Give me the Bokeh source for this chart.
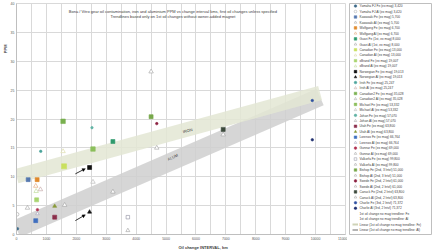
import math
from bokeh.plotting import figure
from bokeh.models import Range1d, Label, Arrow, NormalHead, ColumnDataSource, FixedTicker, Title
from bokeh.layouts import row
from bokeh.embed import file_html
from bokeh.resources import INLINE
from bokeh.core.properties import value

# ---------------- data ----------------
title_lines = [
    "Bona / Vitro gear oil contamination, iron and aluminium PPM vs change interval kms, first oil changes unless specified",
    "Trendlines based only on 1st oil changes without owner-added magnet",
]
x_title = "Oil change INTERVAL, km"
y_title = "PPM"
x_ticks = [0, 1000, 2000, 3000, 4000, 5000, 6000, 7000, 8000, 9000, 10000, 11000]
x_minor = [i * 500 for i in range(23)]
y_ticks = [0, 5, 10, 15, 20, 25, 30, 35, 40]

fe_labels = [
    "Yamaha FJ Fe (ex mag) 3,420", "Kawasaki Fe (ex mag) 5,700", "Wolfgang Fe (ex mag) 6,700",
    "Guzzi Fe (1st, ex mag) 8,000", "Canadian Fe (ex mag) 13,000", "xBrand Fe (ex mag) 19,007",
    "Norwegian Fe (ex mag) 19,013", "Irish Fe (ex mag) 25,247", "Canadian2 Fe (ex mag) 35,028",
    "Michael Fe (ex mag) 53,332", "Johan Fe (ex mag) 57,070", "Utah Fe (ex mag) 63,800",
    "Lorenzo Fe (ex mag) 66,764", "Gunnar Fe (ex mag) 69,000", "Valkorfa Fe (ex mag) 99,800",
    "Bishop Fe (2nd, 3 Intvl) 51,000", "Swede Fe (2nd, 2 Intvl) 61,000",
    "Canuck Fe (2nd, 2 Intvl) 63,800", "Charlie Fe (3rd, 2 Intvl) 71,372",
]
al_labels = [
    "Yamaha FJ Al (ex mag) 3,420", "Kawasaki Al (ex mag) 5,700", "Wolfgang Al (ex mag) 6,700",
    "Guzzi Al (1st, ex mag) 8,000", "Canadian Al (ex mag) 13,000", "xBrand Al (ex mag) 19,007",
    "Norwegian Al (ex mag) 19,013", "Irish Al (ex mag) 25,247", "Canadian2 Al (ex mag) 35,028",
    "Michael Al (ex mag) 53,332", "Johan Al (ex mag) 57,070", "Utah Al (ex mag) 63,800",
    "Lorenzo Al (ex mag) 66,764", "Gunnar Al (ex mag) 69,000", "Valkorfa Al (ex mag) 99,800",
    "Bishop Al (2nd, 3 Intvl) 51,000", "Swede Al (2nd, 2 Intvl) 61,000",
    "Canuck Al (2nd, 2 Intvl) 63,800", "Charlie Al (3rd, 2 Intvl) 71,372",
]
trend_labels = [
    "1st oil change no mag trendline: Fe",
    "1st oil change no mag trendline: Al",
    "Linear (1st oil change no mag trendline: Fe)",
    "Linear (1st oil change no mag trendline: Al)",
]

fe_km = [33, 390, 690, 3223, 1590, 673, 2443, 810, 1557, 2557, 2523, 1277, 643, 700, 3723, 4500, 4690, 6910, 9890]
fe_ppm = [1.0, 9.5, 9.5, 16.1, 11.8, 6.0, 11.6, 14.4, 19.6, 14.8, 18.5, 3.0, 2.4, 4.3, 3.0, 20.4, 19.2, 18.2, 23.2]
al_km = [23, 367, 643, 3223, 1557, 657, 2443, 800, 1610, 2557, None, 1277, 700, None, 3723, 4500, 4690, 6910, 9890]
al_ppm = [3.5, 4.6, 8.4, 7.4, 14.4, 7.5, 3.9, 7.8, 5.1, 9.1, None, 4.9, 3.6, None, 0.7, 28.2, 15.0, 17.3, 16.4]

trend_km = [0, 10150]
iron_trend_ppm = [10.1, 24.5]
alum_trend_ppm = [1.0, 23.8]

# ---------------- styles ----------------
fe_marker = ["circle", "square", "square", "square", "square", "square", "square", "circle", "square",
             "square", "circle", "square", "square", "circle", "square", "square", "circle", "square", "circle"]
fe_fill = ["#3d6b8a", "#5578b0", "#e08a2c", "#2f9a6c", "#c9e060", "#a8d46f", "#111111", "#4aa39a", "#79b04f",
           "#8cbf5c", "#62b3a4", "#8b2d4a", "#3f6fbf", "#b03050", "white", "#77a84a", "#8b2040", "#3c4a3c", "#2f4fa0"]
fe_line = ["#3d6b8a", "#5578b0", "#e08a2c", "#2f9a6c", "#c9e060", "#a8d46f", "#111111", "#4aa39a", "#79b04f",
           "#8cbf5c", "#62b3a4", "#8b2d4a", "#3f6fbf", "#b03050", "#8c8c9c", "#77a84a", "#8b2040", "#3c4a3c", "#2f4fa0"]
fe_size = [2.5, 4, 4, 4, 5, 4, 4, 2.5, 4.5, 4.5, 2.5, 4, 4, 2.5, 3.5, 4, 2.5, 4, 2.5]

al_marker = ["circle", "triangle", "triangle", "triangle", "triangle", "triangle", "triangle", "triangle", "triangle",
             "triangle", "triangle", "triangle", "triangle", "triangle", "triangle", "triangle", "triangle", "triangle", "circle"]
al_fill = ["white", "white", "white", "white", "white", "white", "#111111", "white", "white",
           "white", "white", "#8a9a3a", "white", "white", "white", "white", "white", "white", "#1f2f6f"]
al_line = ["#a0a0a0", "#a0a0a0", "#e0a070", "#a0a0a0", "#d8d8a0", "#b8d890", "#111111", "#c0a0a0", "#a0a0a0",
           "#b0b0b0", "#a0a0a0", "#8a9a3a", "#a0a0b8", "#a0a0a0", "#a0a0a0", "#a0a0a0", "#a0a0a0", "#a0a0a0", "#1f2f6f"]
al_size = [3.5, 4.5, 4.5, 4.5, 4.5, 4.5, 4, 4.5, 4.5, 4.5, 4.5, 4, 3.5, 4.5, 4, 4.5, 4.5, 4.5, 2.5]

iron_color = "#e3e6d3"
alum_color = "#cfcfcf"
FONT = "Liberation Sans"
TXT = "#404040"

# ---------------- main plot ----------------
p = figure(width=347, height=250, x_range=Range1d(0, 11000), y_range=Range1d(0, 40),
           output_backend="svg", toolbar_location=None,
           min_border_left=15, min_border_right=2, min_border_top=3, min_border_bottom=16)
p.outline_line_color = "#d9d9d9"
p.background_fill_color = "white"

p.xaxis.ticker = FixedTicker(ticks=x_ticks, minor_ticks=x_minor)
p.yaxis.ticker = FixedTicker(ticks=y_ticks)
for ax in (p.xaxis, p.yaxis):
    ax.axis_line_color = "#bfbfbf"
    ax.major_tick_line_color = None
    ax.minor_tick_line_color = None
    ax.major_tick_out = 0
    ax.major_tick_in = 0
    ax.minor_tick_out = 0
    ax.minor_tick_in = 0
    ax.major_label_text_font_size = "3.5px"
    ax.major_label_text_color = "#595959"
    ax.major_label_text_font = FONT
    ax.major_label_standoff = 2
p.xgrid.grid_line_color = "#d9d9d9"
p.xgrid.minor_grid_line_color = "#d9d9d9"
p.ygrid.grid_line_color = "#d9d9d9"

# axis titles placed like the original (off-centre)
p.add_layout(Title(text=x_title, align="left", offset=162, standoff=1, text_font_size="4px",
                   text_color=TXT, text_font=FONT, text_font_style="bold"), "below")
p.add_layout(Title(text=y_title, align="right", offset=41, standoff=0, text_font_size="4px",
                   text_color=TXT, text_font=FONT, text_font_style="bold"), "left")

# trend bands
p.line(trend_km, alum_trend_ppm, line_width=18, line_cap="butt", line_color=alum_color, line_alpha=0.85)
p.line(trend_km, iron_trend_ppm, line_width=14.5, line_cap="butt", line_color=iron_color, line_alpha=0.85)

p.add_layout(Label(x=5723, y=18.0, text="IRON", angle=math.radians(15.3), text_font_size="4px",
                   text_color=TXT, text_font=FONT, text_align="center", text_baseline="middle"))
p.add_layout(Label(x=5223, y=13.4, text="ALUM", angle=math.radians(23.5), text_font_size="4px",
                   text_color=TXT, text_font=FONT, text_align="center", text_baseline="middle"))

fe_src = ColumnDataSource(dict(km=fe_km, ppm=fe_ppm, marker=fe_marker, fill=fe_fill, line=fe_line, size=fe_size))
keep = [i for i in range(len(al_km)) if al_km[i] is not None]
al_src = ColumnDataSource(dict(km=[al_km[i] for i in keep], ppm=[al_ppm[i] for i in keep],
                               marker=[al_marker[i] for i in keep], fill=[al_fill[i] for i in keep],
                               line=[al_line[i] for i in keep], size=[al_size[i] for i in keep]))
p.scatter("km", "ppm", source=al_src, marker="marker", fill_color="fill", line_color="line", size="size", line_width=0.6)
p.scatter("km", "ppm", source=fe_src, marker="marker", fill_color="fill", line_color="line", size="size", line_width=0.6)

# arrows to the black markers
for (xs, ys, xe, ye) in [(1967, 10.5, 2300, 11.4), (1967, 2.4, 2300, 3.4)]:
    p.add_layout(Arrow(end=NormalHead(size=3, fill_color="black", line_color="black", line_width=0.5),
                       x_start=xs, y_start=ys, x_end=xe, y_end=ye, line_color="black", line_width=0.8))

# chart title inside the plot area
p.add_layout(Label(x=5230, y=38.67, text=title_lines[0], text_font_size="4px", text_color=TXT, text_font=FONT,
                   text_align="center", text_baseline="middle"))
p.add_layout(Label(x=5230, y=37.8, text=title_lines[1], text_font_size="4px", text_color=TXT, text_font=FONT,
                   text_align="center", text_baseline="middle"))

# ---------------- legend (as its own panel) ----------------
n_entries = 2 * len(fe_labels) + len(trend_labels)
leg = figure(width=86, height=250, x_range=Range1d(0, 82), y_range=Range1d(n_entries - 1 + 0.81, -0.47),
             output_backend="svg", toolbar_location=None, x_axis_location=None, y_axis_location=None,
             min_border_left=2, min_border_right=2, min_border_top=3, min_border_bottom=3)
leg.grid.visible = False
leg.outline_line_color = "#bfbfbf"

entry_text, entry_idx = [], []
m_idx, m_marker, m_fill, m_line = [], [], [], []
for i in range(len(fe_labels)):
    entry_text += [fe_labels[i], al_labels[i]]
    entry_idx += [2 * i, 2 * i + 1]
    m_idx += [2 * i, 2 * i + 1]
    m_marker += [fe_marker[i], al_marker[i]]
    m_fill += [fe_fill[i], al_fill[i]]
    m_line += [fe_line[i], al_line[i]]
base = 2 * len(fe_labels)
for j, t in enumerate(trend_labels):
    entry_text.append(t)
    entry_idx.append(base + j)

leg.scatter(x=[6] * len(m_idx), y=m_idx, marker=m_marker, fill_color=m_fill, line_color=m_line,
            size=2.6, line_width=0.5)
leg.segment(x0=[3, 3], x1=[8.5, 8.5], y0=[base + 2, base + 3], y1=[base + 2, base + 3],
            line_color=["#cfd3b8", "#b5b5b5"], line_width=2)
leg.text(x=[10] * len(entry_idx), y=entry_idx, text=entry_text, text_font_size="3.2px",
         text_color=TXT, text_font=value(FONT), text_baseline="middle")

layout = row(p, leg)
open("out.html", "w").write(file_html(layout, INLINE))
